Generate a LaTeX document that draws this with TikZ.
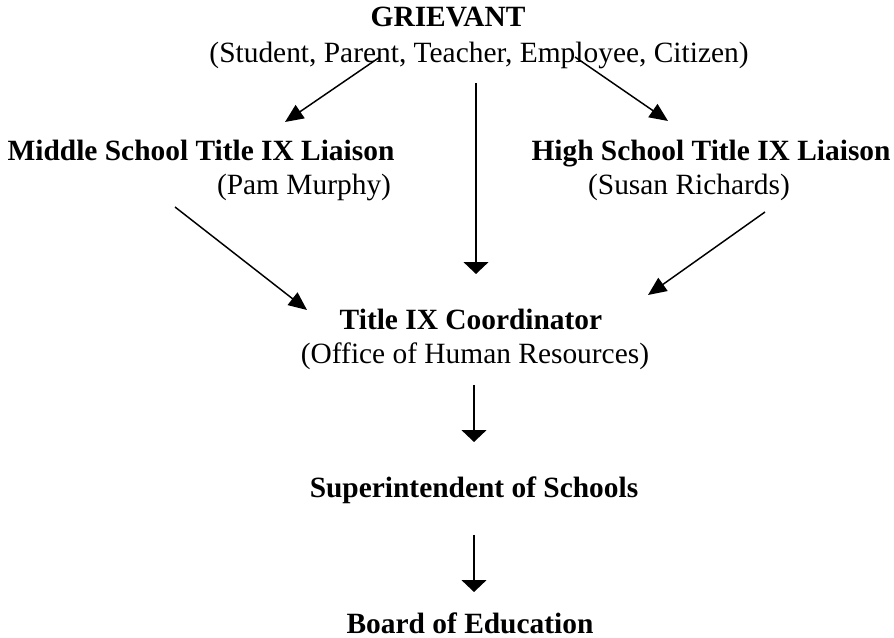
\documentclass[tikz,border=0pt]{standalone}
\usepackage{fontspec}
\setmainfont{Liberation Serif}
\usetikzlibrary{arrows.meta}
\tikzset{
	every node/.style={draw=none,inner sep=0pt,outer sep=0pt,anchor=base,font=\fontsize{12}{14}\selectfont},
	head/.style={font=\fontsize{12}{14}\selectfont\bfseries},
	flow/.style={line width=0.6pt,arrows={-Triangle[length=7.5pt,width=6.5pt]}},
	down/.style={line width=0.6pt,arrows={-Triangle[length=4.8pt,width=10pt]}}
	}
\begin{document}
\begin{tikzpicture}[x=0.408pt,y=-0.408pt]
		\useasboundingbox (0,0) rectangle (894,638);
		\node[head] (griev) at (448,27) {GRIEVANT};
		\node (who) at (479,63) {(Student, Parent, Teacher, Employee, Citizen)};
		\node[head] (ms) at (201,161) {Middle School Title IX Liaison};
		\node (msname) at (304,195) {(Pam Murphy)};
		\node[head] (hs) at (711,161) {High School Title IX Liaison};
		\node (hsname) at (689,195) {(Susan Richards)};
		\node[head] (coord) at (471,330) {Title IX Coordinator};
		\node (hr) at (475,364) {(Office of Human Resources)};
		\node[head] (supt) at (474,498) {Superintendent of Schools};
		\node[head] (board) at (470,633) {Board of Education};
		% arrow ends
		\coordinate (wl) at (380,57);
		\coordinate (wr) at (575,57);
		\coordinate (wm) at (476,83);
		\coordinate (msin) at (285,122);
		\coordinate (hsin) at (668,121);
		\coordinate (msout) at (175,207);
		\coordinate (hsout) at (765,212);
		\coordinate (cin) at (476,274);
		\coordinate (cinl) at (307,310);
		\coordinate (cinr) at (648,295);
		\coordinate (cout) at (474,385);
		\coordinate (sin) at (474,442);
		\coordinate (sout) at (474,535);
		\coordinate (bin) at (474,592);
		\draw[flow] (wl) -- (msin);
		\draw[flow] (wr) -- (hsin);
		\draw[down] (wm) -- (cin);
		\draw[flow] (msout) -- (cinl);
		\draw[flow] (hsout) -- (cinr);
		\draw[down] (cout) -- (sin);
		\draw[down] (sout) -- (bin);
\end{tikzpicture}
\end{document}
